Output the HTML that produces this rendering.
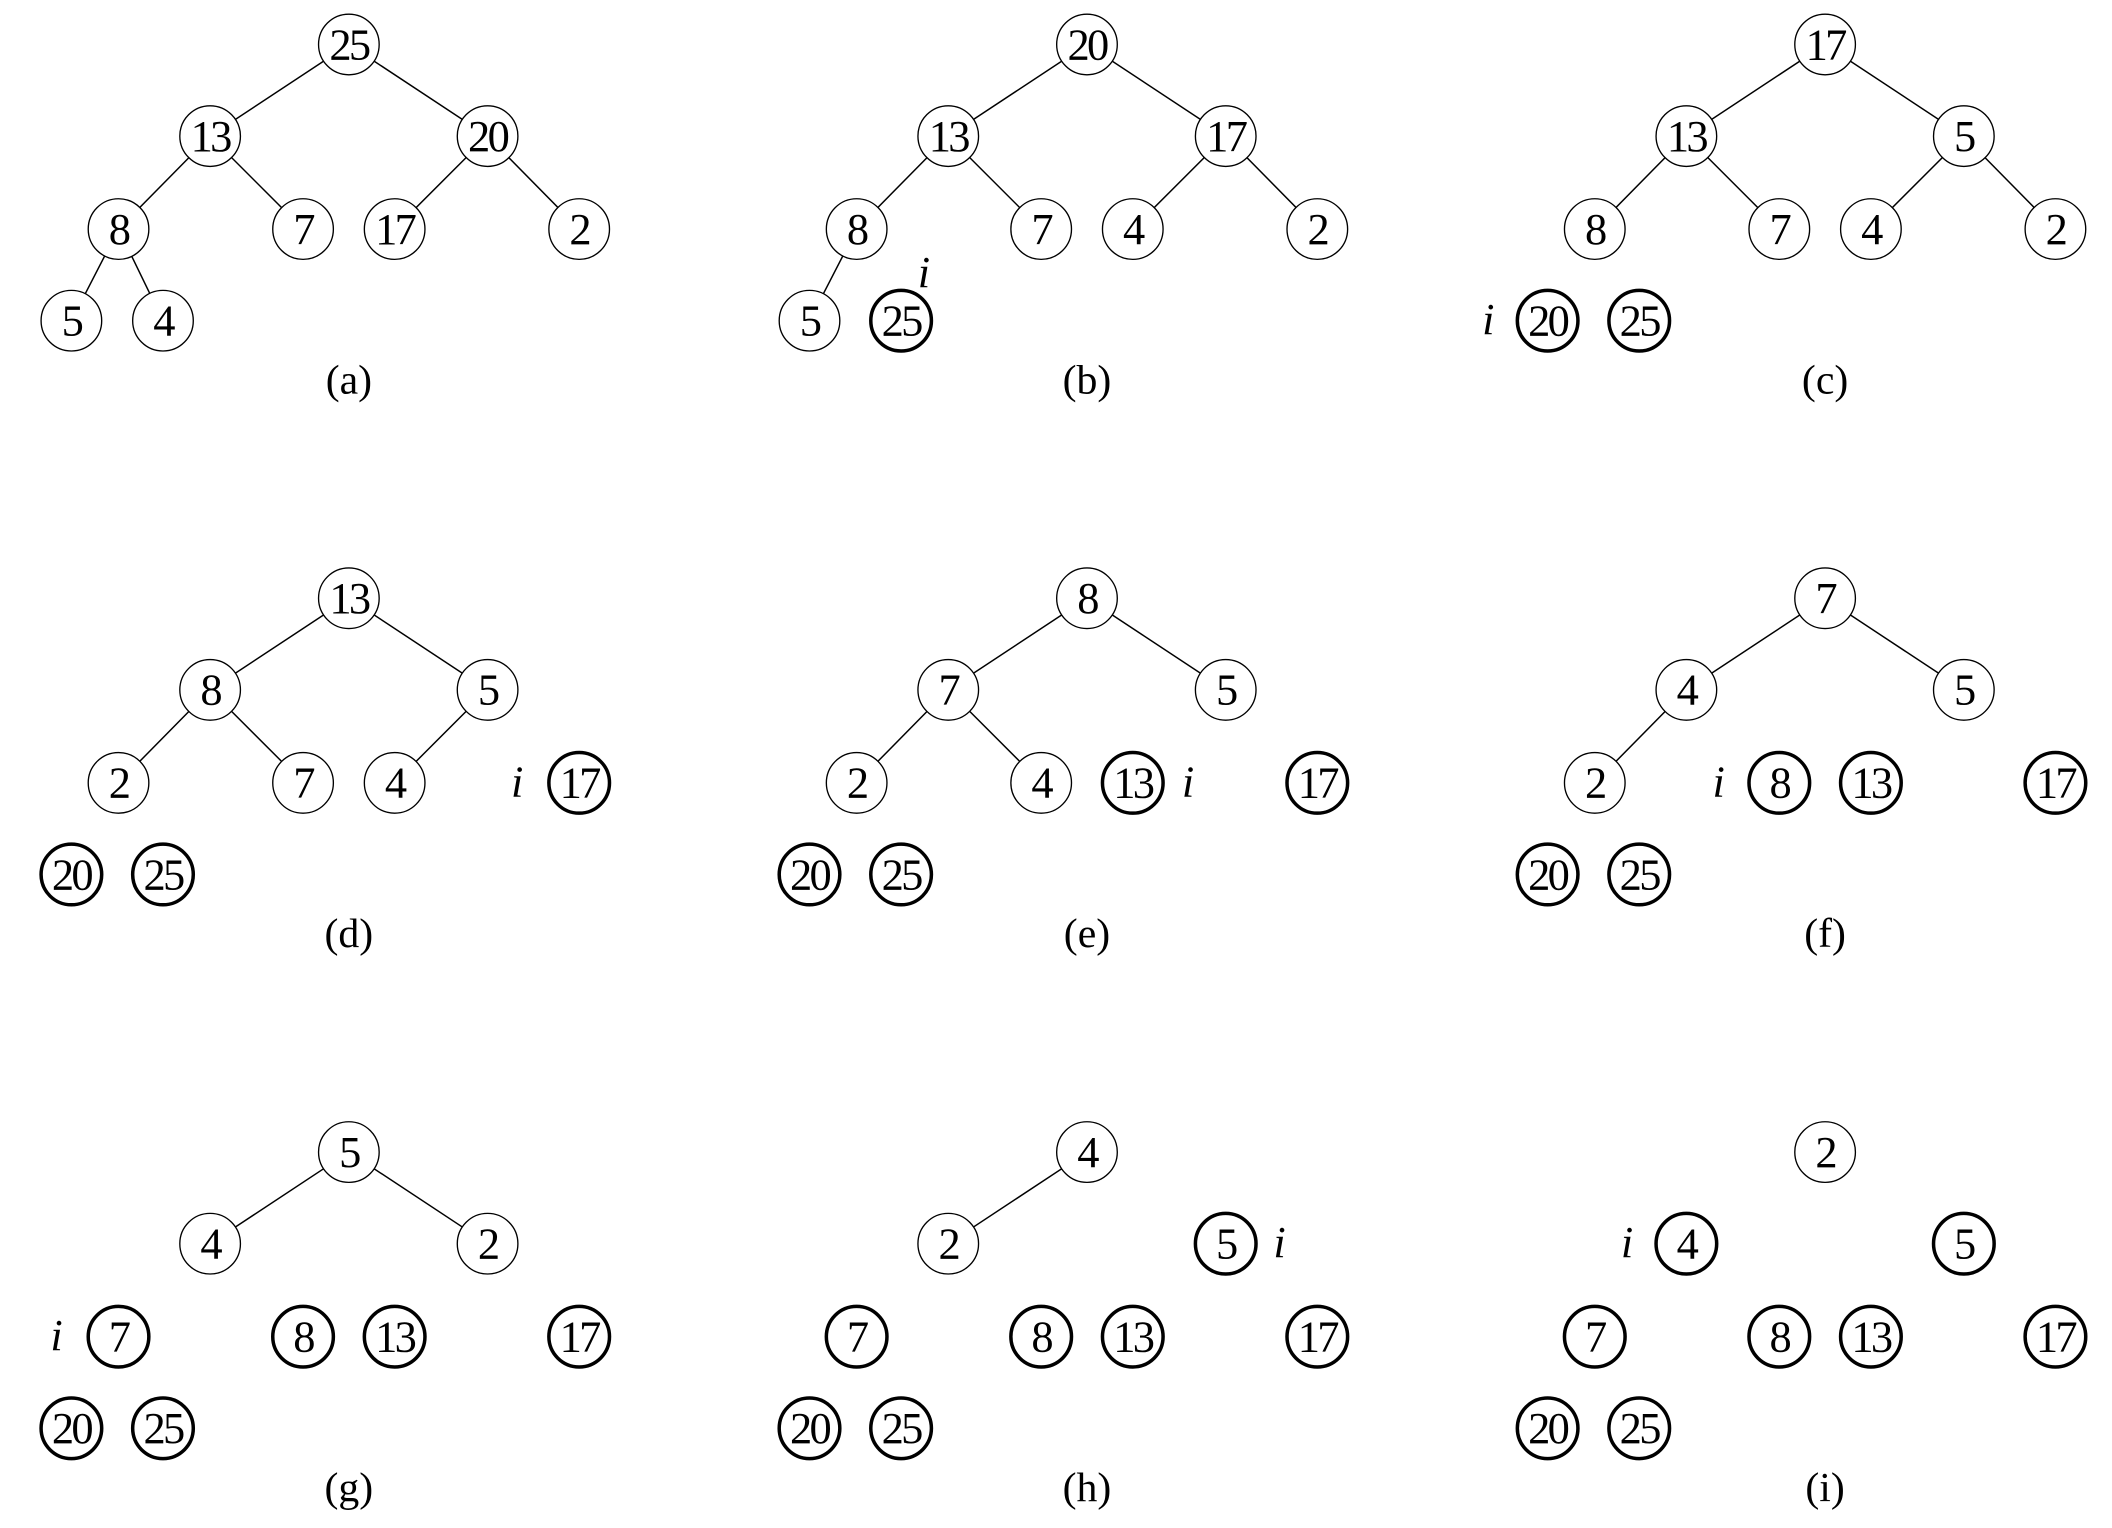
<!DOCTYPE html>
<html><head><meta charset="utf-8"><style>
html,body{margin:0;padding:0;background:#fff;width:2112px;height:1528px;overflow:hidden}
svg{display:block}
circle{fill:#fff;stroke:#000;stroke-width:1}
circle.b{stroke-width:2.6}
line{stroke:#000;stroke-width:1.1}
text{font-family:"Liberation Serif",serif;font-size:33px;text-anchor:middle;fill:#000;letter-spacing:-2px}
text.i{font-style:italic;letter-spacing:0}
text.l{letter-spacing:0;font-size:31px}
</style></head><body>
<svg width="2112" height="1528" viewBox="0 0 1568 1134" preserveAspectRatio="none">
<g transform="translate(0,0)">
<line x1="259" y1="33" x2="156" y2="101"/><line x1="259" y1="33" x2="362" y2="101"/>
<line x1="156" y1="101" x2="88" y2="170"/><line x1="156" y1="101" x2="225" y2="170"/>
<line x1="362" y1="101" x2="293" y2="170"/><line x1="362" y1="101" x2="430" y2="170"/>
<line x1="88" y1="170" x2="53" y2="238"/><line x1="88" y1="170" x2="121" y2="238"/>
<circle cx="259" cy="33" r="22.5"/><text x="259" y="44">25</text>
<circle cx="156" cy="101" r="22.5"/><text x="156" y="112">13</text>
<circle cx="362" cy="101" r="22.5"/><text x="362" y="112">20</text>
<circle cx="88" cy="170" r="22.5"/><text x="88" y="181">8</text>
<circle cx="225" cy="170" r="22.5"/><text x="225" y="181">7</text>
<circle cx="293" cy="170" r="22.5"/><text x="293" y="181">17</text>
<circle cx="430" cy="170" r="22.5"/><text x="430" y="181">2</text>
<circle cx="53" cy="238" r="22.5"/><text x="53" y="249">5</text>
<circle cx="121" cy="238" r="22.5"/><text x="121" y="249">4</text>
<text class="l" x="259" y="292">(a)</text>
</g>
<g transform="translate(548,0)">
<line x1="259" y1="33" x2="156" y2="101"/><line x1="259" y1="33" x2="362" y2="101"/>
<line x1="156" y1="101" x2="88" y2="170"/><line x1="156" y1="101" x2="225" y2="170"/>
<line x1="362" y1="101" x2="293" y2="170"/><line x1="362" y1="101" x2="430" y2="170"/>
<line x1="88" y1="170" x2="53" y2="238"/>
<circle cx="259" cy="33" r="22.5"/><text x="259" y="44">20</text>
<circle cx="156" cy="101" r="22.5"/><text x="156" y="112">13</text>
<circle cx="362" cy="101" r="22.5"/><text x="362" y="112">17</text>
<circle cx="88" cy="170" r="22.5"/><text x="88" y="181">8</text>
<circle cx="225" cy="170" r="22.5"/><text x="225" y="181">7</text>
<circle cx="293" cy="170" r="22.5"/><text x="293" y="181">4</text>
<circle cx="430" cy="170" r="22.5"/><text x="430" y="181">2</text>
<circle cx="53" cy="238" r="22.5"/><text x="53" y="249">5</text>
<circle class="b" cx="121" cy="238" r="22.5"/><text x="121" y="249">25</text>
<text class="i" x="138" y="213">i</text>
<text class="l" x="259" y="292">(b)</text>
</g>
<g transform="translate(1096,0)">
<line x1="259" y1="33" x2="156" y2="101"/><line x1="259" y1="33" x2="362" y2="101"/>
<line x1="156" y1="101" x2="88" y2="170"/><line x1="156" y1="101" x2="225" y2="170"/>
<line x1="362" y1="101" x2="293" y2="170"/><line x1="362" y1="101" x2="430" y2="170"/>
<circle cx="259" cy="33" r="22.5"/><text x="259" y="44">17</text>
<circle cx="156" cy="101" r="22.5"/><text x="156" y="112">13</text>
<circle cx="362" cy="101" r="22.5"/><text x="362" y="112">5</text>
<circle cx="88" cy="170" r="22.5"/><text x="88" y="181">8</text>
<circle cx="225" cy="170" r="22.5"/><text x="225" y="181">7</text>
<circle cx="293" cy="170" r="22.5"/><text x="293" y="181">4</text>
<circle cx="430" cy="170" r="22.5"/><text x="430" y="181">2</text>
<circle class="b" cx="53" cy="238" r="22.5"/><text x="53" y="249">20</text>
<circle class="b" cx="121" cy="238" r="22.5"/><text x="121" y="249">25</text>
<text class="i" x="9" y="248">i</text>
<text class="l" x="259" y="292">(c)</text>
</g>
<g transform="translate(0,411)">
<line x1="259" y1="33" x2="156" y2="101"/><line x1="259" y1="33" x2="362" y2="101"/>
<line x1="156" y1="101" x2="88" y2="170"/><line x1="156" y1="101" x2="225" y2="170"/>
<line x1="362" y1="101" x2="293" y2="170"/>
<circle cx="259" cy="33" r="22.5"/><text x="259" y="44">13</text>
<circle cx="156" cy="101" r="22.5"/><text x="156" y="112">8</text>
<circle cx="362" cy="101" r="22.5"/><text x="362" y="112">5</text>
<circle cx="88" cy="170" r="22.5"/><text x="88" y="181">2</text>
<circle cx="225" cy="170" r="22.5"/><text x="225" y="181">7</text>
<circle cx="293" cy="170" r="22.5"/><text x="293" y="181">4</text>
<circle class="b" cx="430" cy="170" r="22.5"/><text x="430" y="181">17</text>
<circle class="b" cx="53" cy="238" r="22.5"/><text x="53" y="249">20</text>
<circle class="b" cx="121" cy="238" r="22.5"/><text x="121" y="249">25</text>
<text class="i" x="384" y="180">i</text>
<text class="l" x="259" y="292">(d)</text>
</g>
<g transform="translate(548,411)">
<line x1="259" y1="33" x2="156" y2="101"/><line x1="259" y1="33" x2="362" y2="101"/>
<line x1="156" y1="101" x2="88" y2="170"/><line x1="156" y1="101" x2="225" y2="170"/>
<circle cx="259" cy="33" r="22.5"/><text x="259" y="44">8</text>
<circle cx="156" cy="101" r="22.5"/><text x="156" y="112">7</text>
<circle cx="362" cy="101" r="22.5"/><text x="362" y="112">5</text>
<circle cx="88" cy="170" r="22.5"/><text x="88" y="181">2</text>
<circle cx="225" cy="170" r="22.5"/><text x="225" y="181">4</text>
<circle class="b" cx="293" cy="170" r="22.5"/><text x="293" y="181">13</text>
<circle class="b" cx="430" cy="170" r="22.5"/><text x="430" y="181">17</text>
<circle class="b" cx="53" cy="238" r="22.5"/><text x="53" y="249">20</text>
<circle class="b" cx="121" cy="238" r="22.5"/><text x="121" y="249">25</text>
<text class="i" x="334" y="180">i</text>
<text class="l" x="259" y="292">(e)</text>
</g>
<g transform="translate(1096,411)">
<line x1="259" y1="33" x2="156" y2="101"/><line x1="259" y1="33" x2="362" y2="101"/>
<line x1="156" y1="101" x2="88" y2="170"/>
<circle cx="259" cy="33" r="22.5"/><text x="259" y="44">7</text>
<circle cx="156" cy="101" r="22.5"/><text x="156" y="112">4</text>
<circle cx="362" cy="101" r="22.5"/><text x="362" y="112">5</text>
<circle cx="88" cy="170" r="22.5"/><text x="88" y="181">2</text>
<circle class="b" cx="225" cy="170" r="22.5"/><text x="225" y="181">8</text>
<circle class="b" cx="293" cy="170" r="22.5"/><text x="293" y="181">13</text>
<circle class="b" cx="430" cy="170" r="22.5"/><text x="430" y="181">17</text>
<circle class="b" cx="53" cy="238" r="22.5"/><text x="53" y="249">20</text>
<circle class="b" cx="121" cy="238" r="22.5"/><text x="121" y="249">25</text>
<text class="i" x="180" y="180">i</text>
<text class="l" x="259" y="292">(f)</text>
</g>
<g transform="translate(0,822)">
<line x1="259" y1="33" x2="156" y2="101"/><line x1="259" y1="33" x2="362" y2="101"/>
<circle cx="259" cy="33" r="22.5"/><text x="259" y="44">5</text>
<circle cx="156" cy="101" r="22.5"/><text x="156" y="112">4</text>
<circle cx="362" cy="101" r="22.5"/><text x="362" y="112">2</text>
<circle class="b" cx="88" cy="170" r="22.5"/><text x="88" y="181">7</text>
<circle class="b" cx="225" cy="170" r="22.5"/><text x="225" y="181">8</text>
<circle class="b" cx="293" cy="170" r="22.5"/><text x="293" y="181">13</text>
<circle class="b" cx="430" cy="170" r="22.5"/><text x="430" y="181">17</text>
<circle class="b" cx="53" cy="238" r="22.5"/><text x="53" y="249">20</text>
<circle class="b" cx="121" cy="238" r="22.5"/><text x="121" y="249">25</text>
<text class="i" x="42" y="180">i</text>
<text class="l" x="259" y="292">(g)</text>
</g>
<g transform="translate(548,822)">
<line x1="259" y1="33" x2="156" y2="101"/>
<circle cx="259" cy="33" r="22.5"/><text x="259" y="44">4</text>
<circle cx="156" cy="101" r="22.5"/><text x="156" y="112">2</text>
<circle class="b" cx="362" cy="101" r="22.5"/><text x="362" y="112">5</text>
<circle class="b" cx="88" cy="170" r="22.5"/><text x="88" y="181">7</text>
<circle class="b" cx="225" cy="170" r="22.5"/><text x="225" y="181">8</text>
<circle class="b" cx="293" cy="170" r="22.5"/><text x="293" y="181">13</text>
<circle class="b" cx="430" cy="170" r="22.5"/><text x="430" y="181">17</text>
<circle class="b" cx="53" cy="238" r="22.5"/><text x="53" y="249">20</text>
<circle class="b" cx="121" cy="238" r="22.5"/><text x="121" y="249">25</text>
<text class="i" x="402" y="111">i</text>
<text class="l" x="259" y="292">(h)</text>
</g>
<g transform="translate(1096,822)">
<circle cx="259" cy="33" r="22.5"/><text x="259" y="44">2</text>
<circle class="b" cx="156" cy="101" r="22.5"/><text x="156" y="112">4</text>
<circle class="b" cx="362" cy="101" r="22.5"/><text x="362" y="112">5</text>
<circle class="b" cx="88" cy="170" r="22.5"/><text x="88" y="181">7</text>
<circle class="b" cx="225" cy="170" r="22.5"/><text x="225" y="181">8</text>
<circle class="b" cx="293" cy="170" r="22.5"/><text x="293" y="181">13</text>
<circle class="b" cx="430" cy="170" r="22.5"/><text x="430" y="181">17</text>
<circle class="b" cx="53" cy="238" r="22.5"/><text x="53" y="249">20</text>
<circle class="b" cx="121" cy="238" r="22.5"/><text x="121" y="249">25</text>
<text class="i" x="112" y="111">i</text>
<text class="l" x="259" y="292">(i)</text>
</g>
</svg>
</body></html>
